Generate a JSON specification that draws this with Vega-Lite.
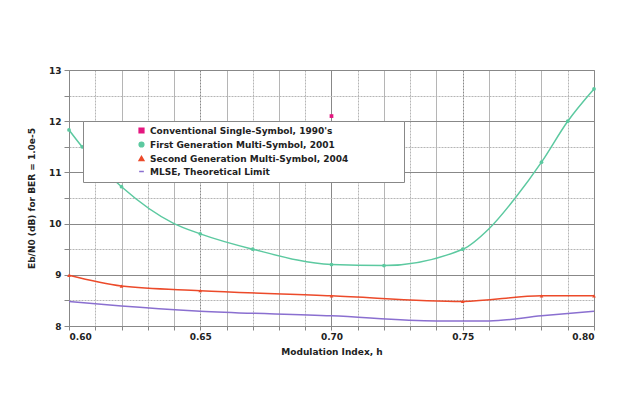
{
  "$schema": "https://vega.github.io/schema/vega-lite/v6.json",
  "width": 525,
  "height": 256,
  "autosize": "none",
  "padding": {"left": 69, "top": 70, "right": 23, "bottom": 70},
  "background": "white",
  "config": {
    "font": "DejaVu Sans",
    "view": {"stroke": "#999999"},
    "axis": {
      "labelFont": "DejaVu Sans", "labelFontWeight": "bold", "labelFontSize": 9, "labelColor": "#222222",
      "titleFont": "DejaVu Sans", "titleFontWeight": "bold", "titleFontSize": 9, "titleColor": "#222222",
      "domainColor": "#888888", "tickColor": "#888888", "gridColor": "#aaaaaa", "gridOpacity": 1
    }
  },
  "data": {"values": [
    {"series": "Conventional Single-Symbol, 1990's", "h": 0.70, "ebn0": 12.1, "marker": true},
    {"series": "First Generation Multi-Symbol, 2001", "h": 0.60, "ebn0": 11.83, "marker": true},
    {"series": "First Generation Multi-Symbol, 2001", "h": 0.605, "ebn0": 11.5, "marker": true},
    {"series": "First Generation Multi-Symbol, 2001", "h": 0.62, "ebn0": 10.72, "marker": true},
    {"series": "First Generation Multi-Symbol, 2001", "h": 0.64, "ebn0": 10.0, "marker": false},
    {"series": "First Generation Multi-Symbol, 2001", "h": 0.65, "ebn0": 9.8, "marker": true},
    {"series": "First Generation Multi-Symbol, 2001", "h": 0.67, "ebn0": 9.5, "marker": true},
    {"series": "First Generation Multi-Symbol, 2001", "h": 0.70, "ebn0": 9.2, "marker": true},
    {"series": "First Generation Multi-Symbol, 2001", "h": 0.72, "ebn0": 9.18, "marker": true},
    {"series": "First Generation Multi-Symbol, 2001", "h": 0.75, "ebn0": 9.5, "marker": true},
    {"series": "First Generation Multi-Symbol, 2001", "h": 0.76, "ebn0": 9.9, "marker": false},
    {"series": "First Generation Multi-Symbol, 2001", "h": 0.77, "ebn0": 10.5, "marker": false},
    {"series": "First Generation Multi-Symbol, 2001", "h": 0.78, "ebn0": 11.2, "marker": true},
    {"series": "First Generation Multi-Symbol, 2001", "h": 0.79, "ebn0": 12.0, "marker": true},
    {"series": "First Generation Multi-Symbol, 2001", "h": 0.80, "ebn0": 12.63, "marker": true},
    {"series": "Second Generation Multi-Symbol, 2004", "h": 0.60, "ebn0": 8.99, "marker": true},
    {"series": "Second Generation Multi-Symbol, 2004", "h": 0.62, "ebn0": 8.78, "marker": true},
    {"series": "Second Generation Multi-Symbol, 2004", "h": 0.65, "ebn0": 8.69, "marker": true},
    {"series": "Second Generation Multi-Symbol, 2004", "h": 0.70, "ebn0": 8.59, "marker": true},
    {"series": "Second Generation Multi-Symbol, 2004", "h": 0.75, "ebn0": 8.48, "marker": true},
    {"series": "Second Generation Multi-Symbol, 2004", "h": 0.78, "ebn0": 8.59, "marker": true},
    {"series": "Second Generation Multi-Symbol, 2004", "h": 0.80, "ebn0": 8.59, "marker": true},
    {"series": "MLSE, Theoretical Limit", "h": 0.60, "ebn0": 8.48, "marker": false},
    {"series": "MLSE, Theoretical Limit", "h": 0.62, "ebn0": 8.39, "marker": false},
    {"series": "MLSE, Theoretical Limit", "h": 0.65, "ebn0": 8.29, "marker": false},
    {"series": "MLSE, Theoretical Limit", "h": 0.70, "ebn0": 8.2, "marker": false},
    {"series": "MLSE, Theoretical Limit", "h": 0.74, "ebn0": 8.1, "marker": false},
    {"series": "MLSE, Theoretical Limit", "h": 0.76, "ebn0": 8.1, "marker": false},
    {"series": "MLSE, Theoretical Limit", "h": 0.78, "ebn0": 8.2, "marker": false},
    {"series": "MLSE, Theoretical Limit", "h": 0.80, "ebn0": 8.29, "marker": false}
  ]},
  "encoding": {
    "x": {"field": "h", "type": "quantitative",
      "scale": {"domain": [0.6, 0.8], "nice": false, "zero": false},
      "axis": {"title": "Modulation Index, h",
        "values": [0.6,0.61,0.62,0.63,0.64,0.65,0.66,0.67,0.68,0.69,0.7,0.71,0.72,0.73,0.74,0.75,0.76,0.77,0.78,0.79,0.8],
        "labelExpr": "abs(round(datum.value*100) % 5) == 0 ? format(datum.value, '.2f') : ''",
        "tickSize": 4, "labelPadding": 2, "titlePadding": 6,
        "gridDash": {"condition": {"test": "round(datum.value*100) % 2 == 1", "value": [2, 1]}, "value": []},
        "gridColor": {"condition": {"test": "round(datum.value*100) % 5 == 0", "value": "#888888"}, "value": "#b5b5b5"}
      }},
    "y": {"field": "ebn0", "type": "quantitative",
      "scale": {"domain": [8, 13], "nice": false, "zero": false},
      "axis": {"title": "Eb/N0 (dB) for BER = 1.0e-5",
        "values": [8, 8.5, 9, 9.5, 10, 10.5, 11, 11.5, 12, 12.5, 13],
        "labelExpr": "datum.value % 1 == 0 ? format(datum.value, 'd') : ''",
        "tickSize": 5, "labelPadding": 3, "titlePadding": 12,
        "gridDash": {"condition": {"test": "datum.value % 1 != 0", "value": [2, 1]}, "value": []},
        "gridColor": {"condition": {"test": "datum.value % 1 == 0", "value": "#888888"}, "value": "#b5b5b5"}
      }},
    "color": {"field": "series", "type": "nominal",
      "scale": {
        "domain": ["Conventional Single-Symbol, 1990's", "First Generation Multi-Symbol, 2001", "Second Generation Multi-Symbol, 2004", "MLSE, Theoretical Limit"],
        "range": ["#e4167f", "#5cc9a0", "#ec4a2a", "#8a6fd0"]},
      "legend": {"title": null, "orient": "none", "legendX": 14, "legendY": 51,
        "fillColor": "white", "strokeColor": "#888888", "padding": 5,
        "symbolOffset": 49, "labelFont": "DejaVu Sans", "labelFontWeight": "bold", "labelFontSize": 9, "labelColor": "#222222",
        "labelLimit": 500,
        "rowPadding": 3, "symbolStrokeWidth": 1.5, "symbolSize": 22, "labelOffset": 4,
        "labelExpr": "datum.label + '\u00a0\u00a0\u00a0\u00a0\u00a0\u00a0\u00a0\u00a0\u00a0\u00a0\u00a0\u00a0\u00a0\u00a0\u00a0\u00a0\u200b'"}
    }
  },
  "layer": [
    {"mark": {"type": "line", "interpolate": "monotone", "strokeWidth": 1.5}},
    {"transform": [{"filter": "datum.marker"}],
     "mark": {"type": "point", "filled": true, "opacity": 1, "size": 14},
     "encoding": {"shape": {"field": "series", "type": "nominal",
        "scale": {"domain": ["Conventional Single-Symbol, 1990's", "First Generation Multi-Symbol, 2001", "Second Generation Multi-Symbol, 2004", "MLSE, Theoretical Limit"],
          "range": ["square", "circle", "triangle-up", "stroke"]}}}}
  ]
}
